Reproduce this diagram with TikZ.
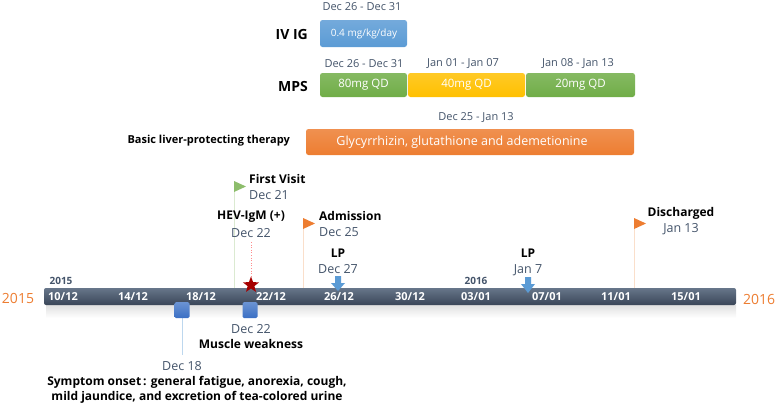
\documentclass[tikz,border=0pt]{standalone}
\usepackage{fontspec}
\setmainfont{Open Sans}
\usetikzlibrary{shapes.geometric,arrows.meta,shadings}
\definecolor{datec}{HTML}{44546A}
\definecolor{orng}{HTML}{ED7D31}
\definecolor{grn}{HTML}{70AD47}
\definecolor{yel}{HTML}{FFC000}
\definecolor{blu}{HTML}{5B9BD5}
\definecolor{sqb}{HTML}{3A6FC4}
\definecolor{barT}{HTML}{67768A}
\definecolor{barB}{HTML}{3A4658}
\tikzset{
  datetxt/.style={text=datec, font=\fontsize{12.5}{14}\selectfont, inner sep=0pt},
  toptxt/.style={text=datec, font=\fontsize{11}{12}\selectfont, inner sep=0pt},
  evtxt/.style={text=black, font=\fontsize{12}{14}\selectfont\bfseries, inner sep=0pt},
  rowlab/.style={text=black, font=\fontsize{14}{16}\selectfont\bfseries, inner sep=0pt},
  tick/.style={text=white, font=\fontsize{11}{12}\selectfont\bfseries, inner sep=0pt},
  bx/.style={inner sep=0pt, text=white, font=\fontsize{11.5}{13}\selectfont},
  pole/.style={draw=orng!25, line width=0.8pt},
  sq/.style={rounded corners=1.5pt, top color=sqb!75, bottom color=sqb, draw=none},
  dnarrow/.style={fill=blu, draw=none},
}
\begin{document}
\begin{tikzpicture}[x=1pt,y=-1pt]
\useasboundingbox (0,0) rectangle (778,405);
% top rows
\node[toptxt] (ivd) at (362,7) {Dec 26 - Dec 31};
\node[rowlab, anchor=east] (ivl) at (308,34) {IV IG};
\draw[rounded corners=2.5pt, top color=blu!85, bottom color=blu, draw=none] (320,20) rectangle (407,47);
\node[bx, font=\fontsize{10}{12}\selectfont] (ivb) at (364,34) {0.4 mg/kg/day};

\node[toptxt] (m1d) at (364,64) {Dec 26 - Dec 31};
\node[toptxt] (m2d) at (463,64) {Jan 01 - Jan 07};
\node[toptxt] (m3d) at (578,64) {Jan 08 - Jan 13};
\node[rowlab, anchor=east] (mpl) at (308,86) {MPS};
\draw[rounded corners=2.5pt, top color=grn!85, bottom color=grn, draw=none] (320,73) rectangle (407,97);
\draw[rounded corners=2.5pt, top color=yel!85, bottom color=yel, draw=none] (408,73) rectangle (525,97);
\draw[rounded corners=2.5pt, top color=grn!85, bottom color=grn, draw=none] (526,73) rectangle (635,97);
\node[bx] (m1) at (363.5,85) {80mg QD};
\node[bx] (m2) at (466.5,85) {40mg QD};
\node[bx] (m3) at (580.5,85) {20mg QD};

\node[toptxt] (lvd) at (476,118) {Dec 25 - Jan 13};
\node[rowlab, anchor=east, font=\fontsize{11}{12}\selectfont\bfseries] (lvl) at (290,141) {Basic liver-protecting therapy};
\draw[rounded corners=2.5pt, top color=orng!85, bottom color=orng, draw=none] (306,129) rectangle (634,155);
\node[bx, font=\fontsize{12.5}{14}\selectfont] (lvb) at (462,142) {Glycyrrhizin, glutathione and ademetionine};

% timeline bar
\shade[top color=black!12, bottom color=white, draw=none] (46,305) rectangle (736,318);
\draw[rounded corners=2pt, top color=barT, bottom color=barB, draw=none] (44,288) rectangle (736,305);
\node[text=orng, font=\fontsize{14}{16}\selectfont, inner sep=0pt] (y15) at (18,298) {2015};
\node[text=orng, font=\fontsize{14}{16}\selectfont, inner sep=0pt] (y16) at (759,299) {2016};
\node[text=datec, font=\fontsize{10}{12}\selectfont\bfseries, inner sep=0pt] (s15) at (61,281) {2015};
\node[text=datec, font=\fontsize{10}{12}\selectfont\bfseries, inner sep=0pt] (s16) at (476,281) {2016};
\foreach \lab/\xx in {{10/12}/63, {14/12}/133, {18/12}/201, {22/12}/271, {26/12}/339, {30/12}/410, {03/01}/476, {07/01}/547, {11/01}/616, {15/01}/686}
  \node[tick] at (\xx,297) {\lab};

% First visit
\coordinate (fvt) at (234,183);
\coordinate (fvb) at (234,288);
\draw[pole, draw=grn!25] (fvt) -- (fvb);
\fill[grn!80] (234,181) -- (246,186.5) -- (234,192) -- cycle;
\node[evtxt, anchor=west] (fv) at (249,179) {First Visit};
\node[datetxt, anchor=west] (fvd) at (249,195) {Dec 21};

% HEV-IgM
\node[evtxt] (hev) at (251,217) {HEV-IgM (+)};
\node[datetxt] (hevd) at (251,233) {Dec 22};
\node[star, star points=5, star point ratio=2.4, fill=red!65!black, inner sep=0pt, minimum size=17pt] (st) at (251,285) {};
\draw[red!45, line width=0.6pt, dotted] (251,242) -- (st.north);

% Admission
\draw[pole] (303,219) -- (303,288);
\fill[orng] (303,218) -- (315,223.5) -- (303,229) -- cycle;
\node[evtxt, anchor=west] (adm) at (319,216) {Admission};
\node[datetxt, anchor=west] (admd) at (319,232) {Dec 25};

% LP Dec 27
\node[evtxt] (lp1) at (338,253) {LP};
\node[datetxt] (lp1d) at (338,269) {Dec 27};
\fill[dnarrow] (335,276) -- (341,276) -- (341,283) -- (345,283) -- (338,291) -- (331,283) -- (335,283) -- cycle;

% LP Jan 7
\node[evtxt] (lp2) at (528,253) {LP};
\node[datetxt] (lp2d) at (528,270) {Jan 7};
\fill[dnarrow] (525,277) -- (531,277) -- (531,284) -- (535,284) -- (528,293) -- (521,284) -- (525,284) -- cycle;

% Discharged
\draw[pole] (634,219) -- (634,288);
\fill[orng] (634,218) -- (646,223.5) -- (634,229) -- cycle;
\node[evtxt] (dis) at (681,213) {Discharged};
\node[datetxt] (disd) at (681,229) {Jan 13};

% squares
\draw[blu!40, line width=0.8pt] (182,318) -- (182,355);
\draw[sq] (174.5,302) rectangle (189.5,318);
\draw[sq] (242.5,302) rectangle (257.5,318);
\node[datetxt] (d22) at (251,329) {Dec 22};
\node[evtxt, font=\fontsize{12}{14}\selectfont\bfseries] (mw) at (251,344) {Muscle weakness};
\node[datetxt] (d18) at (182,366) {Dec 18};
\node[evtxt, align=center, font=\fontsize{12}{15}\selectfont\bfseries] (so) at (197,390) {Symptom onset\,: general fatigue, anorexia, cough,\\mild jaundice, and excretion of tea-colored urine};
\end{tikzpicture}
\end{document}
